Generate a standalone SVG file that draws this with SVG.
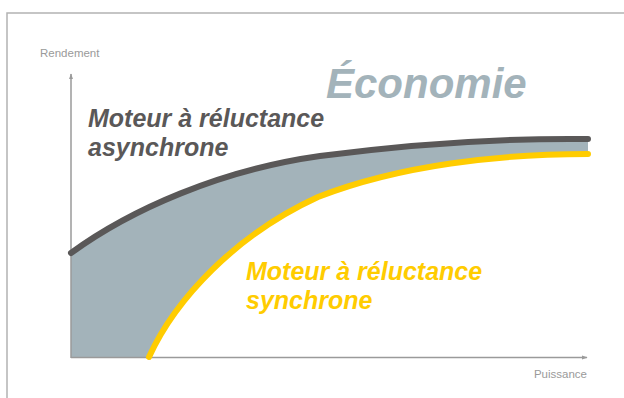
<svg xmlns="http://www.w3.org/2000/svg" width="624" height="398" viewBox="0 0 624 398">
<style>
.axis{stroke:#9a9a9a;stroke-width:1.5;fill:none}
.axlbl{font-family:"Liberation Sans",Arial,sans-serif;font-size:11.5px;fill:#9a9a9a}
.lbl{font-family:"Liberation Sans",Arial,sans-serif;font-size:25px;font-weight:bold;font-style:italic}
</style>
<defs>
<marker id="ah" viewBox="0 0 10 10" refX="9" refY="5" markerWidth="6" markerHeight="6" orient="auto" markerUnits="userSpaceOnUse">
<path d="M0,1.5 L10,5 L0,8.5 Z" fill="#9a9a9a"/>
</marker>
</defs>
<rect x="0" y="0" width="624" height="398" fill="#ffffff"/>
<rect x="7" y="13" width="700" height="500" fill="none" stroke="#b3b3b3" stroke-width="1.5"/>
<g id="area">
<path d="M71,253 C130,210 220,170 320,156 C420,143 500,138 588,139 L588,154 C500,154 400,165 318,197 C235,235 175,300 149,358 L71,358 Z" fill="#a3b3ba"/>
</g>
<g id="axes">
<line class="axis" x1="71" y1="358" x2="71" y2="74" marker-end="url(#ah)"/>
<line class="axis" x1="71" y1="357.5" x2="587" y2="357.5" marker-end="url(#ah)"/>
<text class="axlbl" x="40" y="57">Rendement</text>
<text class="axlbl" x="587" y="378" text-anchor="end">Puissance</text>
</g>
<g id="curve-async">
<path d="M71,253 C130,210 220,170 320,156 C420,143 500,138 588,139" fill="none" stroke="#5a5858" stroke-width="6" stroke-linecap="round"/>
<text class="lbl" fill="#5a5858" x="88" y="127">Moteur à réluctance</text>
<text class="lbl" fill="#5a5858" x="88" y="156">asynchrone</text>
</g>
<g id="curve-sync">
<path d="M149,357 C175,300 235,235 318,197 C400,165 500,154 588,154" fill="none" stroke="#ffcc00" stroke-width="6" stroke-linecap="round"/>
<text class="lbl" fill="#ffcc00" x="246" y="280">Moteur à réluctance</text>
<text class="lbl" fill="#ffcc00" x="246" y="309">synchrone</text>
</g>
<g id="title">
<text x="326" y="98" font-family="'Liberation Sans',Arial,sans-serif" font-size="42" font-weight="bold" font-style="italic" fill="#a3b3ba">Économie</text>
</g>
</svg>
